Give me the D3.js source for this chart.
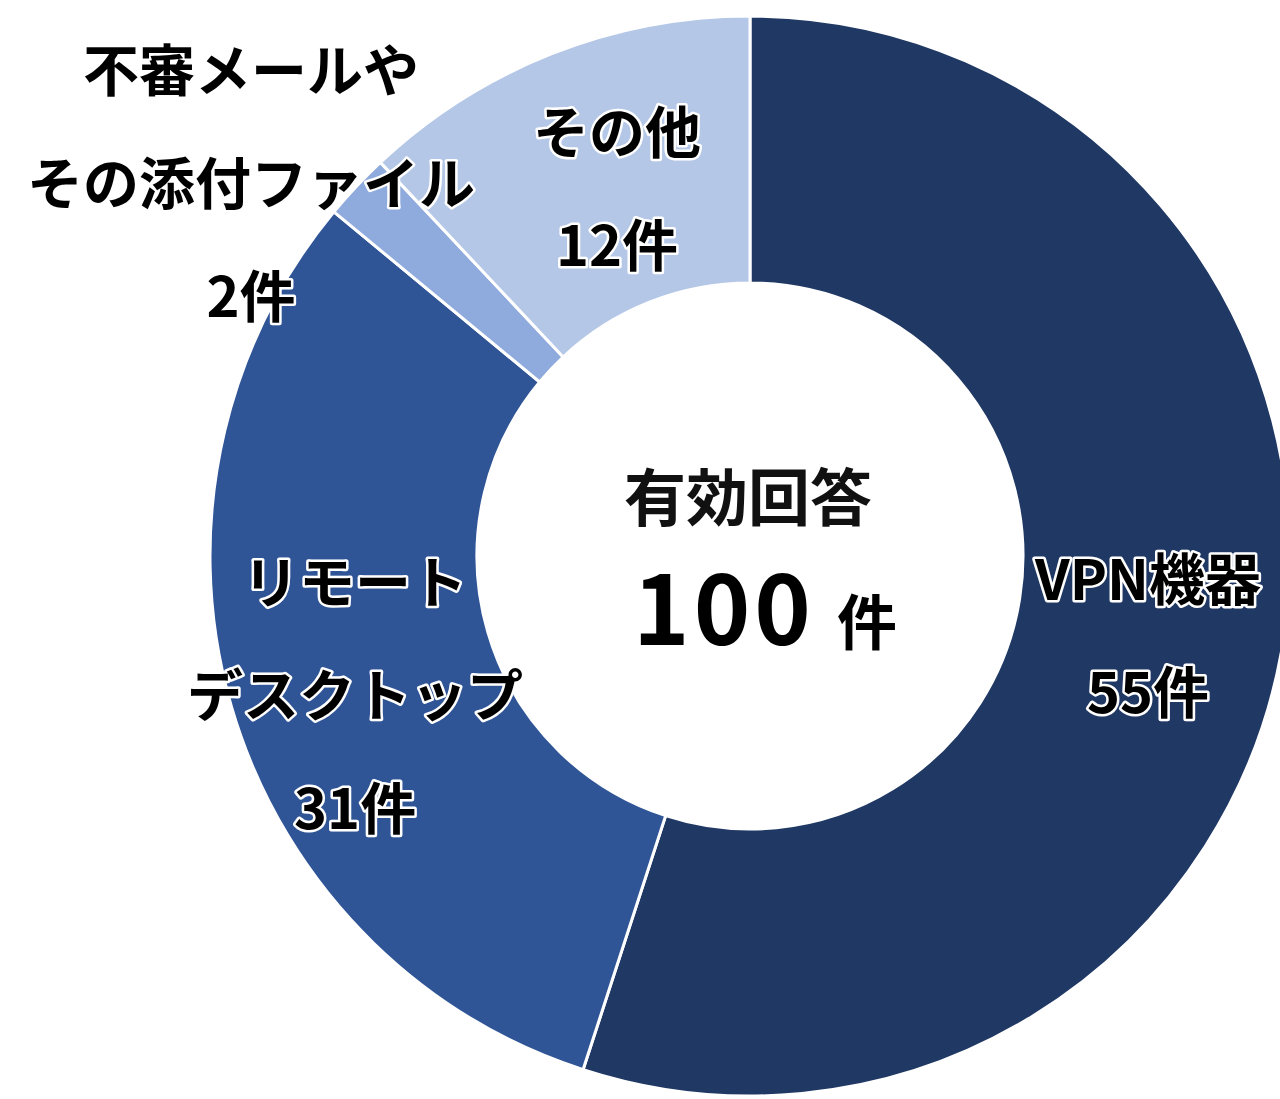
<!DOCTYPE html>
<html>
<head>
<meta charset="utf-8">
<script src="https://cdn.jsdelivr.net/npm/d3@7"></script>
<style>
  html, body { margin: 0; padding: 0; background: #fff; }
  svg text { font-family: "Noto Sans CJK JP", "Noto Sans", sans-serif; font-weight: 700; }
</style>
</head>
<body>
<svg id="chart"></svg>
<script>
// Data
const categories = ["VPN機器", "リモートデスクトップ", "不審メールやその添付ファイル", "その他"];
const counts = [55, 31, 2, 12];
const colors = ["#203864", "#2f5597", "#8faadc", "#b4c7e7"];
// label lines for each slice (last line is the count)
const labelLines = [
  ["VPN機器", "55件"],
  ["リモート", "デスクトップ", "31件"],
  ["不審メールや", "その添付ファイル", "2件"],
  ["その他", "12件"]
];
const centerTitle = "有効回答";
const centerTotal = "100";
const centerUnit = "件";

// Layout
const W = 1280, H = 1099;
const cx = 750, cy = 556;
const outerR = 540, innerR = 273;
const labelR = 405;
const lineGap = 113;
const labelSize = 56;
// label nudges away from the arc centroid (dx, dy)
const labelNudge = [[-2, 16], [-6, 26], [0, 0], [16, 9]];

const svg = d3.select("#chart").attr("width", W).attr("height", H);
const g = svg.append("g").attr("transform", `translate(${cx},${cy})`);

const pie = d3.pie().sort(null).value(d => d)(counts);
const arc = d3.arc().innerRadius(innerR).outerRadius(outerR);

g.selectAll("path.slice")
  .data(pie)
  .join("path")
  .attr("class", "slice")
  .attr("d", arc)
  .attr("fill", (d, i) => colors[i])
  .attr("stroke", "#fff")
  .attr("stroke-width", 3);

// Labels
pie.forEach((d, i) => {
  const mid = (d.startAngle + d.endAngle) / 2;
  let x = labelR * Math.sin(mid) + labelNudge[i][0];
  let y = -labelR * Math.cos(mid) + labelNudge[i][1];
  // small slice: label sits outside the ring, up-left
  if (counts[i] < 5) { x = 251 - cx; y = 183 - cy; }
  const lines = labelLines[i];
  const top = y - (lines.length - 1) * lineGap / 2;
  lines.forEach((t, k) => {
    g.append("text")
      .attr("x", x)
      .attr("y", top + k * lineGap)
      .attr("dy", "0.37em")
      .attr("text-anchor", "middle")
      .attr("font-size", labelSize)
      .attr("fill", "#000")
      .attr("stroke", "#fff")
      .attr("stroke-width", 5)
      .attr("stroke-linejoin", "round")
      .attr("paint-order", "stroke")
      .text(t);
  });
});

// Center text
g.append("text")
  .attr("x", -2)
  .attr("y", 498 - cy)
  .attr("dy", "0.37em")
  .attr("text-anchor", "middle")
  .attr("font-size", 62)
  .attr("fill", "#111")
  .text(centerTitle);

const total = g.append("text")
  .attr("x", 15)
  .attr("y", 645 - cy)
  .attr("text-anchor", "middle")
  .attr("fill", "#000");
total.append("tspan")
  .attr("font-size", 96)
  .attr("letter-spacing", 4)
  .text(centerTotal);
total.append("tspan")
  .attr("dx", 22)
  .attr("font-size", 60)
  .text(centerUnit);
</script>
</body>
</html>
